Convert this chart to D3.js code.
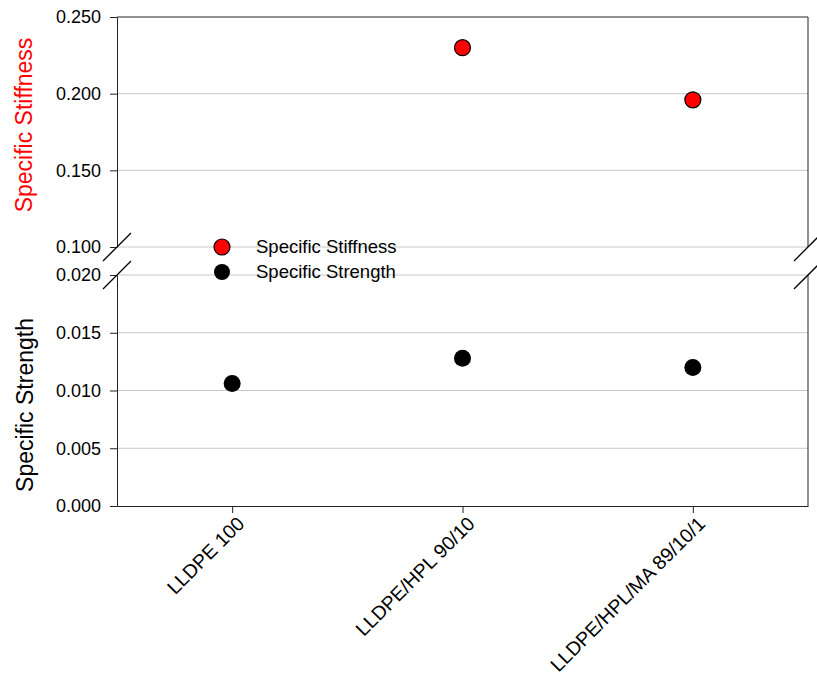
<!DOCTYPE html>
<html>
<head>
<meta charset="utf-8">
<script src="https://cdn.jsdelivr.net/npm/d3@7/dist/d3.min.js"></script>
<style>
  body { margin: 0; background: #fff; }
  svg { font-family: "Liberation Sans", Arial, sans-serif; }
</style>
</head>
<body>
<svg width="817" height="677"></svg>
<script>
var categories = ["LLDPE 100", "LLDPE/HPL 90/10", "LLDPE/HPL/MA 89/10/1"];
var stiffness = [null, 0.230, 0.196];
var strength = [0.0106, 0.0128, 0.0120];
var topTicks = [0.100, 0.150, 0.200, 0.250];
var bottomTicks = [0.000, 0.005, 0.010, 0.015, 0.020];
var legendItems = ["Specific Stiffness", "Specific Strength"];
var seriesColors = ["#ff0000", "#000000"];

var left = 117, right = 808;
var topY0 = 17, topY1 = 247;
var botY0 = 275, botY1 = 506;

var svg = d3.select("svg");

var x = d3.scalePoint()
    .domain(categories)
    .range([left, right])
    .padding(0.5);

var yTop = d3.scaleLinear().domain([0.100, 0.250]).range([topY1, topY0]);
var yBot = d3.scaleLinear().domain([0.000, 0.020]).range([botY1, botY0]);

// gridlines
svg.append("g").selectAll("line")
    .data(topTicks.filter(function(d) { return d < 0.25; }))
    .enter().append("line")
    .attr("x1", left).attr("x2", right)
    .attr("y1", function(d) { return yTop(d); })
    .attr("y2", function(d) { return yTop(d); })
    .attr("stroke", "#c8c8c8").attr("stroke-width", 1);

svg.append("g").selectAll("line")
    .data(bottomTicks.filter(function(d) { return d > 0; }))
    .enter().append("line")
    .attr("x1", left).attr("x2", right)
    .attr("y1", function(d) { return yBot(d); })
    .attr("y2", function(d) { return yBot(d); })
    .attr("stroke", "#c8c8c8").attr("stroke-width", 1);

// y axes
var axTop = svg.append("g")
    .attr("transform", "translate(" + left + ",0)")
    .call(d3.axisLeft(yTop).tickValues(topTicks).tickFormat(d3.format(".3f")).tickSizeOuter(0).tickSizeInner(7).tickPadding(9));
var axBot = svg.append("g")
    .attr("transform", "translate(" + left + ",0)")
    .call(d3.axisLeft(yBot).tickValues(bottomTicks).tickFormat(d3.format(".3f")).tickSizeOuter(0).tickSizeInner(7).tickPadding(9));

[axTop, axBot].forEach(function(g) {
  g.selectAll("path.domain").attr("stroke", "#222");
  g.selectAll(".tick line").attr("stroke", "#222");
  g.selectAll(".tick text").attr("font-size", 18).attr("fill", "#000")
      .style("font-family", "'Liberation Sans', Arial, sans-serif");
});

// right side and top frame
var frame = svg.append("g").attr("stroke", "#222").attr("fill", "none");
frame.append("line").attr("x1", left).attr("x2", right).attr("y1", topY0).attr("y2", topY0);
frame.append("line").attr("x1", right).attr("x2", right).attr("y1", topY0).attr("y2", topY1);
frame.append("line").attr("x1", right).attr("x2", right).attr("y1", botY0).attr("y2", botY1);

// x axis
var axX = svg.append("g")
    .attr("transform", "translate(0," + botY1 + ")")
    .call(d3.axisBottom(x).tickSizeOuter(0).tickSizeInner(7).tickPadding(6));
axX.selectAll("path.domain").attr("stroke", "#222");
axX.selectAll(".tick line").attr("stroke", "#222");
axX.selectAll(".tick text")
    .attr("font-size", 19.5).attr("fill", "#000")
    .style("font-family", "'Liberation Sans', Arial, sans-serif")
    .attr("text-anchor", "end")
    .attr("dy", "0.35em")
    .attr("transform", "translate(-1,5) rotate(-45)");

// break marks
var breaks = svg.append("g").attr("stroke", "#000").attr("stroke-width", 1.3);
[left, right].forEach(function(bx) {
  [topY1, botY0].forEach(function(by) {
    breaks.append("line")
        .attr("x1", bx - 14).attr("y1", by + 14)
        .attr("x2", bx + 14).attr("y2", by - 14);
  });
});

// points
svg.append("g").selectAll("circle")
    .data(categories.map(function(c, i) { return { c: c, v: stiffness[i] }; }).filter(function(d) { return d.v !== null; }))
    .enter().append("circle")
    .attr("cx", function(d) { return x(d.c); })
    .attr("cy", function(d) { return yTop(d.v); })
    .attr("r", 8)
    .attr("fill", seriesColors[0])
    .attr("stroke", "#000").attr("stroke-width", 1.2);

svg.append("g").selectAll("circle")
    .data(categories.map(function(c, i) { return { c: c, v: strength[i] }; }))
    .enter().append("circle")
    .attr("cx", function(d) { return x(d.c); })
    .attr("cy", function(d) { return yBot(d.v); })
    .attr("r", 8.5)
    .attr("fill", seriesColors[1]);

// legend
var legend = svg.append("g").selectAll("g")
    .data(legendItems)
    .enter().append("g")
    .attr("transform", function(d, i) { return "translate(222," + (247 + i * 25) + ")"; });
legend.append("circle")
    .attr("r", 8)
    .attr("fill", function(d, i) { return seriesColors[i]; })
    .attr("stroke", "#000").attr("stroke-width", function(d, i) { return i === 0 ? 1.2 : 0; });
legend.append("text")
    .attr("x", 34).attr("dy", "0.35em")
    .attr("font-size", 18.5)
    .text(function(d) { return d; });

// y titles
svg.append("text")
    .attr("transform", "translate(32,125) rotate(-90)")
    .attr("text-anchor", "middle")
    .attr("font-size", 23)
    .attr("fill", "#ff0000")
    .text("Specific Stiffness");
svg.append("text")
    .attr("transform", "translate(33,405) rotate(-90)")
    .attr("text-anchor", "middle")
    .attr("font-size", 23)
    .attr("fill", "#000")
    .text("Specific Strength");
</script>
</body>
</html>
